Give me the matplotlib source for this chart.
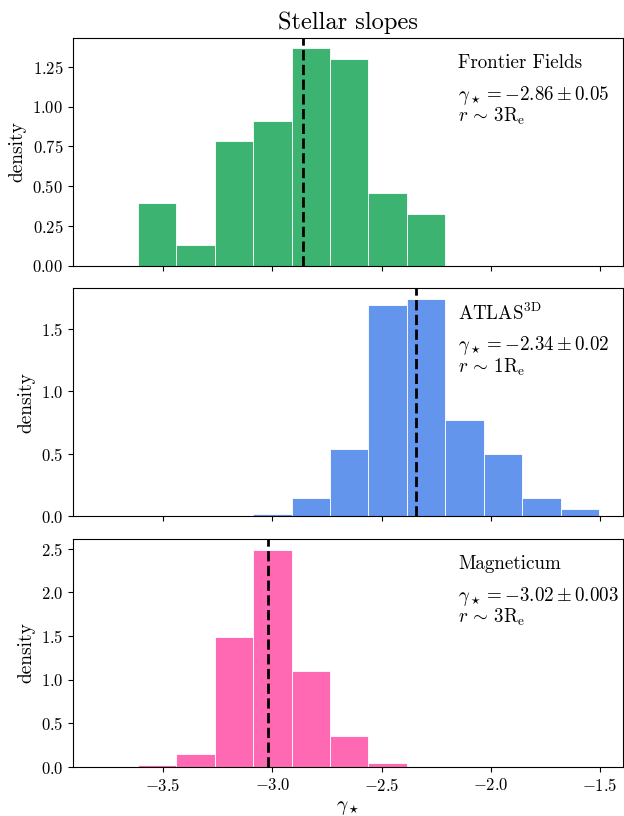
import matplotlib
matplotlib.use("Agg")
import matplotlib.pyplot as plt
import numpy as np

plt.rcParams['font.family'] = 'serif'
plt.rcParams['font.serif'] = ['cmr10']
plt.rcParams['mathtext.fontset'] = 'cm'
plt.rcParams['axes.formatter.use_mathtext'] = True
plt.rcParams['axes.unicode_minus'] = True

# common bin edges of the slope histograms
bin_edges = np.linspace(-3.616, -1.504, 13)

# density per bin
ff_density = [0.394, 0.130, 0.783, 0.911, 1.367, 1.298, 0.457, 0.327]          # bins 0..7
atlas_density = [0.015, 0.150, 0.542, 1.688, 1.736, 0.766, 0.502, 0.150, 0.061]  # bins 3..11
mag_density = [0.02, 0.149, 1.490, 2.488, 1.100, 0.355, 0.046]                  # bins 0..6

ff_first, atlas_first, mag_first = 0, 3, 0

names = ['Frontier Fields', r'ATLAS$^{\rm 3D}$', 'Magneticum']
medians = [-2.86, -2.34, -3.02]
errors = ['0.05', '0.02', '0.003']
radii = ['3', '1', '3']
colors = ['mediumseagreen', 'cornflowerblue', 'hotpink']

fig, axes = plt.subplots(3, 1, sharex=True, figsize=(6.24, 8.16), dpi=100)
plt.subplots_adjust(left=0.117, right=0.998, top=0.954, bottom=0.060, hspace=0.099)

series = [(ff_density, ff_first), (atlas_density, atlas_first), (mag_density, mag_first)]
for i, ax in enumerate(axes):
    dens, first = series[i]
    left = bin_edges[first:first + len(dens)]
    width = np.diff(bin_edges)[first:first + len(dens)]
    ax.bar(left, dens, width=width, align='edge', color=colors[i],
           edgecolor='white', linewidth=0.6)
    ax.axvline(medians[i], color='k', ls='--', lw=2)
    ax.set_ylabel('density', fontsize=14)
    ax.tick_params(labelsize=12)
    ax.text(0.701, 0.89, names[i], transform=ax.transAxes, fontsize=13.7, va='center')
    ax.text(0.701, 0.748,
            r'$\gamma_\star = {%.2f} \pm %s$' % (medians[i], errors[i]),
            transform=ax.transAxes, fontsize=13.7, va='center')
    ax.text(0.701, 0.655, r'$r \,\sim\, %s\mathrm{R_e}$' % radii[i],
            transform=ax.transAxes, fontsize=13.7, va='center')

axes[0].set_xlim(-3.912, -1.396)
axes[0].set_title('Stellar slopes', fontsize=17.6)
axes[2].set_xlabel(r'$\gamma_\star$', fontsize=14)

plt.savefig('out.png', dpi=100)
